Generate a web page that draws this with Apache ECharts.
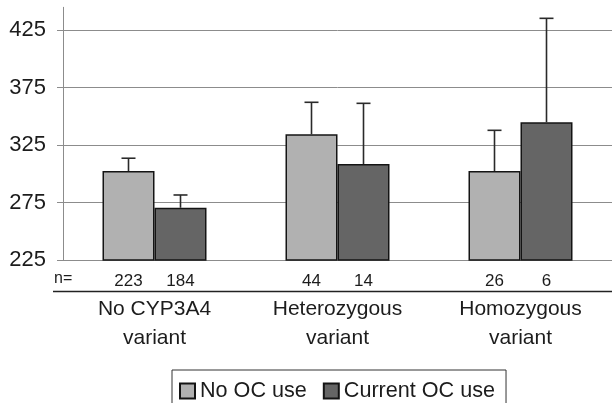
<!DOCTYPE html>
<html>
<head>
<meta charset="utf-8">
<script src="https://cdn.jsdelivr.net/npm/echarts@6/dist/echarts.min.js"></script>
<style>
html,body{margin:0;padding:0;background:#fff;}
#chart{width:612px;height:403px;}
</style>
</head>
<body>
<div id="chart"></div>
<script>
// ---- data ----
const categories = ['No CYP3A4\nvariant', 'Heterozygous\nvariant', 'Homozygous\nvariant'];
const seriesNames = ['No OC use', 'Current OC use'];
const noOCMean = [302.5, 334.4, 302.5];
const noOCUpper = [313.6, 362.3, 337.9];
const currentOCMean = [270.5, 308.6, 344.9];
const currentOCUpper = [281.6, 361.4, 435.4];
const noOCCounts = [223, 44, 26];
const currentOCCounts = [184, 14, 6];
const yTicks = [225, 275, 325, 375, 425];

// ---- styling constants ----
const FONT = '"Liberation Sans", Arial, sans-serif';
const TEXT = '#1c1c1c';
const GRID = '#8c8c8c';
const BAR_W = 52;

function errorSeries(name, means, uppers, side) {
  return {
    type: 'custom',
    name: name,
    z: 5,
    data: means.map((m, i) => [i, m, uppers[i]]),
    encode: { x: 0, y: [1, 2] },
    renderItem: function (params, api) {
      const base = api.coord([api.value(0), api.value(1)]);
      const top = api.coord([api.value(0), api.value(2)]);
      const x = base[0] + side * BAR_W / 2;
      const cap = 7;
      const style = { stroke: '#2a2a2a', lineWidth: 1.6, fill: null };
      return {
        type: 'group',
        children: [
          { type: 'line', shape: { x1: x, y1: base[1], x2: x, y2: top[1] }, style: style },
          { type: 'line', shape: { x1: x - cap, y1: top[1], x2: x + cap, y2: top[1] }, style: style }
        ]
      };
    },
    silent: true
  };
}

const chart = echarts.init(document.getElementById('chart'), null, { renderer: 'canvas' });
chart.setOption({
  backgroundColor: '#ffffff',
  animation: false,
  textStyle: { fontFamily: FONT, color: TEXT },
  grid: { left: 63, right: 0, top: 7.3, bottom: 143, containLabel: false },
  legend: {
    data: seriesNames,
    left: 172,
    top: 370,
    orient: 'horizontal',
    padding: [10, 11, 12, 7],
    itemGap: 16,
    itemWidth: 15,
    itemHeight: 15,
    borderColor: '#333',
    borderWidth: 1,
    icon: 'rect',
    textStyle: { fontSize: 21.6, color: TEXT, fontFamily: FONT }
  },
  xAxis: {
    type: 'category',
    data: categories,
    axisLine: { show: false },
    axisTick: { show: false },
    axisLabel: {
      margin: 35,
      fontSize: 21,
      lineHeight: 29,
      color: TEXT,
      fontFamily: FONT,
      interval: 0
    },
    splitLine: { show: false }
  },
  yAxis: {
    type: 'value',
    min: 225,
    max: 445,
    interval: 50,
    axisLine: { show: true, lineStyle: { color: GRID, width: 1 } },
    axisTick: { show: true, length: 6, lineStyle: { color: GRID } },
    axisLabel: {
      margin: 17,
      fontSize: 22,
      color: TEXT,
      fontFamily: FONT,
      showMaxLabel: false,
      formatter: function (v) { return yTicks.indexOf(v) >= 0 ? String(v) : ''; }
    },
    splitLine: { show: true, showMinLine: true, showMaxLine: false, lineStyle: { color: GRID, width: 1 } }
  },
  graphic: [
    { type: 'text', left: 54, top: 271, style: { text: 'n=', fontSize: 16, fill: TEXT, fontFamily: FONT } },
    { type: 'line', shape: { x1: 53, y1: 291.5, x2: 612, y2: 291.5 }, style: { stroke: '#222', lineWidth: 1.5 } }
  ],
  series: [
    {
      type: 'bar',
      name: seriesNames[0],
      data: noOCMean,
      barWidth: BAR_W,
      barGap: '0%',
      itemStyle: { color: '#b1b1b1', borderColor: '#141414', borderWidth: 1.5 },
      label: {
        show: true,
        position: 'bottom',
        distance: 12,
        fontSize: 17,
        color: TEXT,
        fontFamily: FONT,
        formatter: function (p) { return String(noOCCounts[p.dataIndex]); }
      }
    },
    {
      type: 'bar',
      name: seriesNames[1],
      data: currentOCMean,
      barWidth: BAR_W,
      barGap: '0%',
      itemStyle: { color: '#656565', borderColor: '#141414', borderWidth: 1.5 },
      label: {
        show: true,
        position: 'bottom',
        distance: 12,
        fontSize: 17,
        color: TEXT,
        fontFamily: FONT,
        formatter: function (p) { return String(currentOCCounts[p.dataIndex]); }
      }
    },
    errorSeries('noOCErr', noOCMean, noOCUpper, -1),
    errorSeries('curOCErr', currentOCMean, currentOCUpper, 1)
  ]
});
</script>
</body>
</html>
